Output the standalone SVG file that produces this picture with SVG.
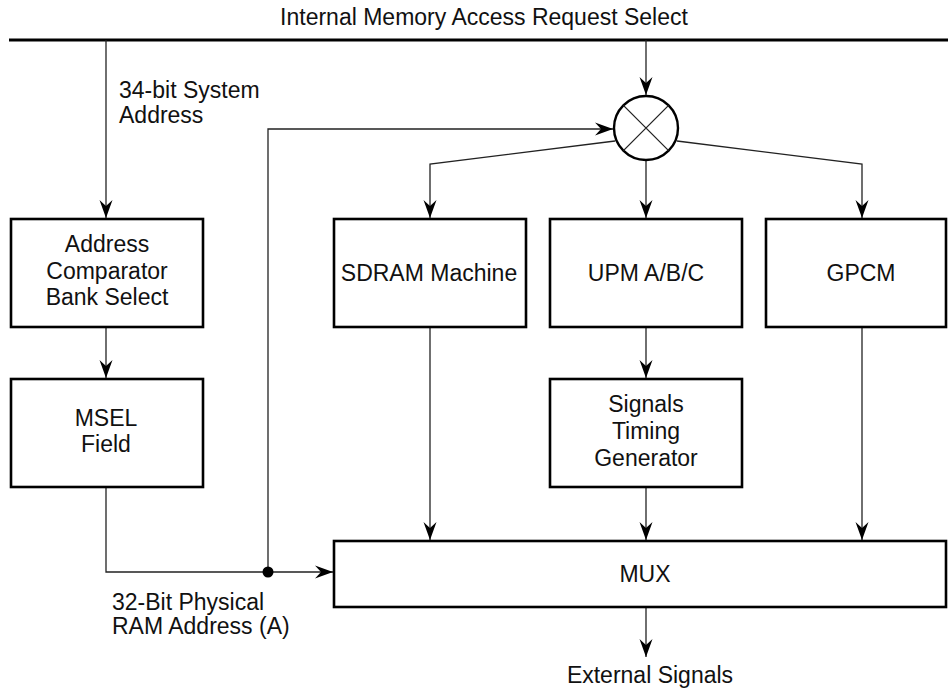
<svg xmlns="http://www.w3.org/2000/svg" width="948" height="689" viewBox="0 0 948 689">
<style>
text{font-family:"Liberation Sans",Arial,Helvetica,sans-serif;font-size:23px;fill:#111}
.c{text-anchor:middle}
.box{fill:#fff;stroke:#000;stroke-width:2.6}
.ln{fill:none;stroke:#222;stroke-width:1.3}
</style>
<defs>
<marker id="ah" markerUnits="userSpaceOnUse" markerWidth="20" markerHeight="14" viewBox="-19 -7 20 14" refX="0" refY="0" orient="auto">
<path d="M0,0 L-18,-6.5 L-12,0 L-18,6.5 Z" fill="#000"/>
</marker>
</defs>
<rect width="948" height="689" fill="#fff"/>
<text class="c" x="484" y="25">Internal Memory Access Request Select</text>
<line x1="9" y1="40" x2="948" y2="40" stroke="#000" stroke-width="3.2"/>
<text x="119" y="98">34-bit System</text>
<text x="119" y="123">Address</text>
<text x="112" y="610">32-Bit Physical</text>
<text x="112" y="634">RAM Address (A)</text>
<text class="c" x="650" y="683">External Signals</text>
<g id="connectors">
<path class="ln" d="M106,40 V218" marker-end="url(#ah)"/>
<path class="ln" d="M106,327 V378" marker-end="url(#ah)"/>
<path class="ln" d="M106,487 V572 H333" marker-end="url(#ah)"/>
<path class="ln" d="M268,572 V129 H613" marker-end="url(#ah)"/>
<circle cx="268" cy="572" r="5.5" fill="#000"/>
<path class="ln" d="M646,40 V95" marker-end="url(#ah)"/>
<path class="ln" d="M615,141 L430,164 V218" marker-end="url(#ah)"/>
<path class="ln" d="M646,160 V218" marker-end="url(#ah)"/>
<path class="ln" d="M677,141 L862,164 V218" marker-end="url(#ah)"/>
<path class="ln" d="M430,327 V540" marker-end="url(#ah)"/>
<path class="ln" d="M646,327 V378" marker-end="url(#ah)"/>
<path class="ln" d="M646,487 V540" marker-end="url(#ah)"/>
<path class="ln" d="M862,327 V540" marker-end="url(#ah)"/>
<path class="ln" d="M646,607 V657" marker-end="url(#ah)"/>
</g>
<g id="selector">
<circle cx="646" cy="128" r="32" fill="#fff" stroke="#000" stroke-width="2.4"/>
<path class="ln" d="M623.4,105.4 L668.6,150.6 M668.6,105.4 L623.4,150.6"/>
</g>
<g id="addr-comparator">
<rect class="box" x="11" y="219" width="192" height="108"/>
<text class="c" x="107" y="252">Address</text>
<text class="c" x="107" y="279">Comparator</text>
<text class="c" x="107" y="305">Bank Select</text>
</g>
<g id="msel">
<rect class="box" x="11" y="379" width="192" height="108"/>
<text class="c" x="106" y="426">MSEL</text>
<text class="c" x="106" y="452">Field</text>
</g>
<g id="sdram">
<rect class="box" x="334" y="219" width="192" height="108"/>
<text class="c" x="429" y="281">SDRAM Machine</text>
</g>
<g id="upm">
<rect class="box" x="550" y="219" width="192" height="108"/>
<text class="c" x="646" y="281">UPM A/B/C</text>
</g>
<g id="gpcm">
<rect class="box" x="766" y="219" width="180" height="108"/>
<text class="c" x="861" y="281">GPCM</text>
</g>
<g id="signals">
<rect class="box" x="550" y="379" width="192" height="108"/>
<text class="c" x="646" y="412">Signals</text>
<text class="c" x="646" y="439">Timing</text>
<text class="c" x="646" y="466">Generator</text>
</g>
<g id="mux">
<rect class="box" x="334" y="541" width="612" height="66"/>
<text class="c" x="645" y="582">MUX</text>
</g>
</svg>
